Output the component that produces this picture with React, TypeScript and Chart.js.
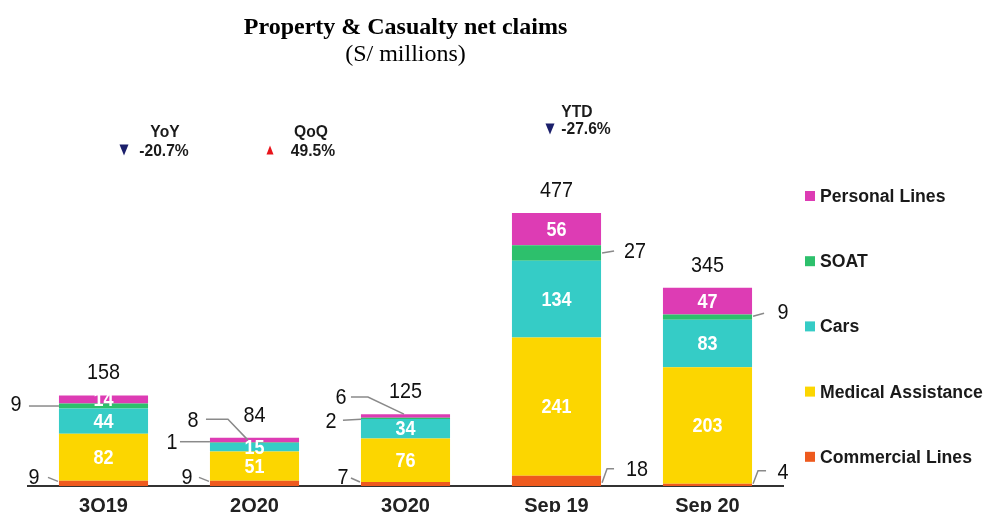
import React, { useEffect, useRef } from "react";
import { Chart, registerables } from "chart.js";

Chart.register(...registerables);

// ---- data ----
const categories = ["3Q19", "2Q20", "3Q20", "Sep 19", "Sep 20"];
const commercialLines = [9, 9, 7, 18, 4];
const medicalAssistance = [82, 51, 76, 241, 203];
const cars = [44, 15, 34, 134, 83];
const soat = [9, 1, 2, 27, 9];
const personalLines = [14, 8, 6, 56, 47];
const totals = [158, 84, 125, 477, 345];
const seriesNames = ["Commercial Lines", "Medical Assistance", "Cars", "SOAT", "Personal Lines"];
const seriesValues = [commercialLines, medicalAssistance, cars, soat, personalLines];
const yoyLabel = "-20.7%";
const qoqLabel = "49.5%";
const ytdLabel = "-27.6%";

// ---- styles ----
const colors = ["#EE5A1E", "#FCD600", "#35CCC6", "#2DC06C", "#DD3CB4"];
// which segment values are written inside the bar
const insideLabel = [
  [false, false, false, false, false],
  [true, true, true, true, true],
  [true, true, true, true, true],
  [false, false, false, false, false],
  [true, false, false, true, true],
];
// callout label placement: offsets relative to the bar edge / segment middle
type Callout = { ds: number; cat: number; side: "left" | "right"; t: [number, number]; path: [number, number][] };
const callouts: Callout[] = [
  { ds: 3, cat: 0, side: "left", t: [-43, -1], path: [[-30, 0], [0, 0]] },
  { ds: 0, cat: 0, side: "left", t: [-25, -5], path: [[-11, -6], [-1, -2]] },
  { ds: 4, cat: 1, side: "left", t: [-17, -19], path: [[-4, -21], [18, -21], [38, 0]] },
  { ds: 3, cat: 1, side: "left", t: [-38, 0], path: [[-30, -1], [0, -1]] },
  { ds: 0, cat: 1, side: "left", t: [-23, -5], path: [[-11, -6], [-1, -2]] },
  { ds: 4, cat: 2, side: "left", t: [-20, -18], path: [[-10, -19], [7, -19], [43, -2]] },
  { ds: 3, cat: 2, side: "left", t: [-30, 4], path: [[-18, 2], [0, 1]] },
  { ds: 0, cat: 2, side: "left", t: [-18, -6], path: [[-10, -6], [-1, -2]] },
  { ds: 3, cat: 3, side: "right", t: [34, -1], path: [[1, 0], [13, -2]] },
  { ds: 0, cat: 3, side: "right", t: [36, -11], path: [[1, 2], [6, -12], [13, -12]] },
  { ds: 3, cat: 4, side: "right", t: [31, -4], path: [[1, -1], [12, -4]] },
  { ds: 0, cat: 4, side: "right", t: [31, -12], path: [[1, -1], [6, -14], [14, -14]] },
];

const SANS = "'Liberation Sans', Arial, sans-serif";
const SERIF = "'Liberation Serif', 'Times New Roman', serif";

function drawText(
  ctx: CanvasRenderingContext2D,
  text: string,
  x: number,
  y: number,
  font: string,
  color: string,
  align: CanvasTextAlign,
  sx: number
) {
  ctx.save();
  ctx.translate(x, y);
  ctx.scale(sx, 1);
  ctx.font = font;
  ctx.fillStyle = color;
  ctx.textAlign = align;
  ctx.textBaseline = "middle";
  ctx.fillText(text, 0, 0);
  ctx.restore();
}

function triangle(ctx: CanvasRenderingContext2D, cx: number, cy: number, w: number, h: number, down: boolean, color: string) {
  ctx.save();
  ctx.fillStyle = color;
  ctx.beginPath();
  if (down) {
    ctx.moveTo(cx - w / 2, cy - h / 2);
    ctx.lineTo(cx + w / 2, cy - h / 2);
    ctx.lineTo(cx, cy + h / 2);
  } else {
    ctx.moveTo(cx - w / 2, cy + h / 2);
    ctx.lineTo(cx + w / 2, cy + h / 2);
    ctx.lineTo(cx, cy - h / 2);
  }
  ctx.closePath();
  ctx.fill();
  ctx.restore();
}

const NUM_FONT = `22px ${SANS}`;

const labelsPlugin = {
  id: "barLabels",
  afterDatasetsDraw(chart: any) {
    const ctx: CanvasRenderingContext2D = chart.ctx;
    const metas = seriesValues.map((_, i) => chart.getDatasetMeta(i));
    const geom = (ds: number, cat: number) => {
      const el = metas[ds].data[cat];
      const p = el.getProps(["x", "y", "base", "width"], true);
      return { x: p.x, top: Math.min(p.y, p.base), bottom: Math.max(p.y, p.base), width: p.width };
    };
    // inside labels
    seriesValues.forEach((vals, ds) => {
      vals.forEach((v, cat) => {
        if (!insideLabel[ds][cat]) return;
        const g = geom(ds, cat);
        drawText(ctx, String(v), g.x, (g.top + g.bottom) / 2 + 1, `bold 20px ${SANS}`, "#ffffff", "center", 0.9);
      });
    });
    // totals
    totals.forEach((t, cat) => {
      const g = geom(seriesValues.length - 1, cat);
      drawText(ctx, String(t), g.x, g.top - 22, NUM_FONT, "#111", "center", 0.9);
    });
    // callouts
    callouts.forEach((c) => {
      const g = geom(c.ds, c.cat);
      const ax = c.side === "left" ? g.x - g.width / 2 : g.x + g.width / 2;
      const ay = (g.top + g.bottom) / 2;
      ctx.save();
      ctx.strokeStyle = "#8a8a8a";
      ctx.lineWidth = 1.5;
      ctx.beginPath();
      c.path.forEach((pt, k) => {
        if (k === 0) ctx.moveTo(ax + pt[0], ay + pt[1]);
        else ctx.lineTo(ax + pt[0], ay + pt[1]);
      });
      ctx.stroke();
      ctx.restore();
      drawText(ctx, String(seriesValues[c.ds][c.cat]), ax + c.t[0], ay + c.t[1], NUM_FONT, "#111", "center", 0.9);
    });
  },
  afterDraw(chart: any) {
    const ctx: CanvasRenderingContext2D = chart.ctx;
    // legend
    const order = [4, 3, 2, 1, 0];
    order.forEach((ds, k) => {
      const cy = 196 + k * 65.2;
      ctx.save();
      ctx.fillStyle = colors[ds];
      ctx.fillRect(805, cy - 5, 10, 10);
      ctx.restore();
      drawText(ctx, seriesNames[ds], 820, cy + 1, `bold 18px ${SANS}`, "#1a1a1a", "left", 0.98);
    });
    // variation annotations
    const f = `bold 17px ${SANS}`;
    drawText(ctx, "YoY", 165, 132, f, "#1a1a1a", "center", 0.92);
    drawText(ctx, yoyLabel, 164, 151, f, "#1a1a1a", "center", 0.92);
    triangle(ctx, 124, 150, 9, 11, true, "#1B1F6B");
    drawText(ctx, "QoQ", 311, 132, f, "#1a1a1a", "center", 0.92);
    drawText(ctx, qoqLabel, 313, 151, f, "#1a1a1a", "center", 0.92);
    triangle(ctx, 270, 150, 7, 9, false, "#E8141B");
    drawText(ctx, "YTD", 577, 112, f, "#1a1a1a", "center", 0.92);
    drawText(ctx, ytdLabel, 586, 129, f, "#1a1a1a", "center", 0.92);
    triangle(ctx, 550, 129, 9, 11, true, "#1B1F6B");
  },
};

export default function App() {
  const ref = useRef<HTMLCanvasElement>(null);
  useEffect(() => {
    const canvas = ref.current;
    if (!canvas) return;
    const chart = new Chart(canvas, {
      type: "bar",
      data: {
        labels: categories,
        datasets: seriesValues.map((vals, i) => ({
          label: seriesNames[i],
          data: vals,
          backgroundColor: colors[i],
          borderWidth: 0,
          barPercentage: 0.59,
          categoryPercentage: 1,
        })),
      },
      options: {
        animation: false,
        responsive: true,
        maintainAspectRatio: false,
        events: [],
        layout: { padding: { left: 28, right: 203, top: 0, bottom: 4 } },
        plugins: {
          legend: { display: false },
          tooltip: { enabled: false },
          title: {
            display: true,
            text: "Property & Casualty net claims",
            color: "#000",
            font: { family: SERIF, size: 24, weight: "bold", lineHeight: 1.1 },
            padding: { top: 15, bottom: 0 },
          },
          subtitle: {
            display: true,
            text: "(S/ millions)",
            color: "#000",
            font: { family: SERIF, size: 24, weight: "normal", lineHeight: 1.1 },
            padding: { top: 0.6, bottom: 73.6 },
          },
        },
        scales: {
          x: {
            stacked: true,
            grid: { display: false, drawTicks: false },
            border: { display: true, color: "#333333", width: 2 },
            ticks: { color: "#222", padding: 8, font: { family: SANS, size: 20, weight: "bold" } },
          },
          y: {
            stacked: true,
            display: false,
            min: 0,
            max: 600,
          },
        },
      },
      plugins: [labelsPlugin],
    });
    return () => chart.destroy();
  }, []);
  return (
    <div style={{ position: "fixed", left: 0, top: 0, width: 986, height: 512, overflow: "hidden", background: "#fff" }}>
      <div style={{ position: "relative", width: 986, height: 530 }}>
        <canvas ref={ref} />
      </div>
    </div>
  );
}
